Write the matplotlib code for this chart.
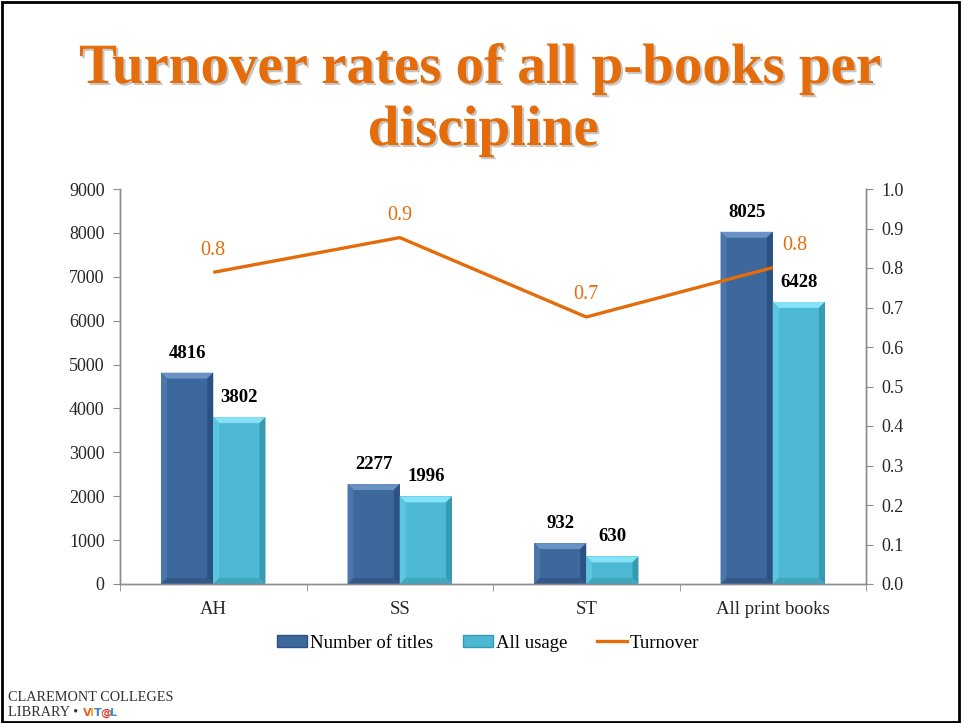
import matplotlib
matplotlib.use("Agg")
import matplotlib.pyplot as plt
import matplotlib.patheffects as pe
from matplotlib.patches import Polygon, Rectangle, Patch
from matplotlib.lines import Line2D
import numpy as np

plt.rcParams['font.family'] = ['Liberation Serif', 'DejaVu Serif']

categories = ['AH', 'SS', 'ST', 'All print books']
titles = [4816, 2277, 932, 8025]
usage = [3802, 1996, 630, 6428]
turnover = [0.789, 0.877, 0.676, 0.801]
left_ticks = [0, 1000, 2000, 3000, 4000, 5000, 6000, 7000, 8000, 9000]
right_ticks = [0.0, 0.1, 0.2, 0.3, 0.4, 0.5, 0.6, 0.7, 0.8, 0.9, 1.0]

ORANGE = '#E46C0A'
GREY = '#8C8C8C'
# face, top, left, right, bottom
NAVY = ['#3D689C', '#6A91C4', '#4A76AB', '#2C5283', '#33598A']
CYAN = ['#4CB8D3', '#86E2F5', '#5CC6DF', '#379AB3', '#3FA7C0']

W, H = 961, 723
fig = plt.figure(figsize=(W / 100, H / 100), dpi=100)
fig.patch.set_facecolor('white')

ax = fig.add_axes([120 / W, 139 / H, 746 / W, 395 / H])
ax2 = ax.twinx()

x = np.arange(len(categories))
bw = 0.28
ax.set_xlim(-0.5, len(categories) - 0.5)
ax.set_ylim(0, 9000)
ax2.set_ylim(0, 1.0)


def bevel_bar(ax, xc, h, colors):
    # flat face plus four bevel trapezoids, sized in pixels
    tr = ax.transData
    (px0, py0) = tr.transform((xc - bw / 2, 0))
    (px1, py1) = tr.transform((xc + bw / 2, h))
    d = min(6.0, (py1 - py0) / 2, (px1 - px0) / 2)
    inv = tr.inverted()

    def poly(pts, c):
        ax.add_patch(Polygon(inv.transform(pts), closed=True, facecolor=c,
                             edgecolor='none', zorder=2))

    poly([(px0, py0), (px1, py0), (px1, py1), (px0, py1)], colors[0])
    poly([(px0, py1), (px1, py1), (px1 - d, py1 - d), (px0 + d, py1 - d)], colors[1])
    poly([(px0, py0), (px0 + d, py0 + d), (px0 + d, py1 - d), (px0, py1)], colors[2])
    poly([(px1, py0), (px1, py1), (px1 - d, py1 - d), (px1 - d, py0 + d)], colors[3])
    poly([(px0, py0), (px1, py0), (px1 - d, py0 + d), (px0 + d, py0 + d)], colors[4])


for i in range(len(categories)):
    bevel_bar(ax, x[i] - bw / 2, titles[i], NAVY)
    bevel_bar(ax, x[i] + bw / 2, usage[i], CYAN)
    ax.annotate(f'{titles[i]}', (x[i] - bw / 2, titles[i]), xytext=(0, 8),
                textcoords='offset points', ha='center', va='bottom',
                fontsize=13.5, fontweight='bold', color='black')
    ax.annotate(f'{usage[i]}', (x[i] + bw / 2, usage[i]), xytext=(0, 8),
                textcoords='offset points', ha='center', va='bottom',
                fontsize=13.5, fontweight='bold', color='black')

# turnover line on the secondary axis
ax2.plot(x, turnover, color=ORANGE, lw=2.4, zorder=3, solid_capstyle='butt')
for i, v in enumerate(turnover):
    dx = 16 if i == len(categories) - 1 else 0
    ax2.annotate(f'{v:.1f}', (x[i], v), xytext=(dx, 9),
                 textcoords='offset points', ha='center', va='bottom',
                 fontsize=14.5, color=ORANGE)
ax2.set_zorder(ax.get_zorder() + 1)
ax2.patch.set_visible(False)

# axes styling
ax.set_yticks(left_ticks)
ax.set_yticklabels([str(t) for t in left_ticks])
ax2.set_yticks(right_ticks)
ax2.set_yticklabels([f'{t:.1f}' for t in right_ticks])
ax.set_xticks(x)
ax.set_xticklabels(categories)
ax.set_xticks(np.arange(-0.5, len(categories), 1.0), minor=True)
ax.tick_params(axis='x', which='major', length=0, pad=12, labelsize=13.5,
               labelcolor='#262626')
ax.tick_params(axis='x', which='minor', length=5, color=GREY, direction='out')
ax.tick_params(axis='y', length=5, color=GREY, labelsize=13,
               labelcolor='#262626', pad=6)
ax2.tick_params(axis='y', length=5, color=GREY, labelsize=13,
                labelcolor='#262626', pad=6)
for a in (ax, ax2):
    a.spines['top'].set_visible(False)
    for s in ('left', 'right', 'bottom'):
        a.spines[s].set_color(GREY)
        a.spines[s].set_linewidth(1.0)

# title with a soft drop shadow
shadow = [pe.withSimplePatchShadow(offset=(1.5, -1.5), shadow_rgbFace='#606060', alpha=0.35)]
fig.text(0.5, 1 - 83 / H, 'Turnover rates of all p-books per', ha='center',
         va='baseline', fontsize=41, fontweight='bold', color=ORANGE,
         path_effects=shadow)
fig.text(0.503, 1 - 145 / H, 'discipline', ha='center', va='baseline',
         fontsize=41, fontweight='bold', color=ORANGE, path_effects=shadow)

# legend
handles = [Patch(facecolor=NAVY[0], edgecolor=NAVY[3], label='Number of titles'),
           Patch(facecolor=CYAN[0], edgecolor=CYAN[3], label='All usage'),
           Line2D([], [], color=ORANGE, lw=2.4, label='Turnover')]
fig.legend(handles=handles, loc='center', bbox_to_anchor=(488 / W, 1 - 643 / H),
           ncol=3, frameon=False, fontsize=13.5, handlelength=1.6,
           handleheight=0.55, handletextpad=0.15, columnspacing=1.6)

# footer
fig.text(8 / W, 1 - 701 / H, 'CLAREMONT COLLEGES', fontsize=10.3,
         va='baseline', ha='left', color='#333333')
lib = fig.text(8 / W, 1 - 716 / H, 'LIBRARY \u2022 ', fontsize=10.3,
               va='baseline', ha='left', color='#333333')
renderer = fig.canvas.get_renderer()
vx = lib.get_window_extent(renderer).x1 + 1
for ch, c in zip('VIT@L', ['#E8612C', '#F2B134', '#3B7DD8', '#D9442E', '#2B9BD6']):
    t = fig.text(vx / W, 1 - 716 / H, ch, fontsize=8, fontweight='bold',
                 family='DejaVu Sans', va='baseline', ha='left', color=c)
    vx = t.get_window_extent(renderer).x1 - 1.0

# slide border
fig.patches.append(Rectangle((1.5 / W, 1.5 / H), 1 - 3.5 / W, 1 - 3 / H,
                             transform=fig.transFigure, fill=False,
                             edgecolor='black', lw=2.0))

fig.savefig('out.png', dpi=100)
